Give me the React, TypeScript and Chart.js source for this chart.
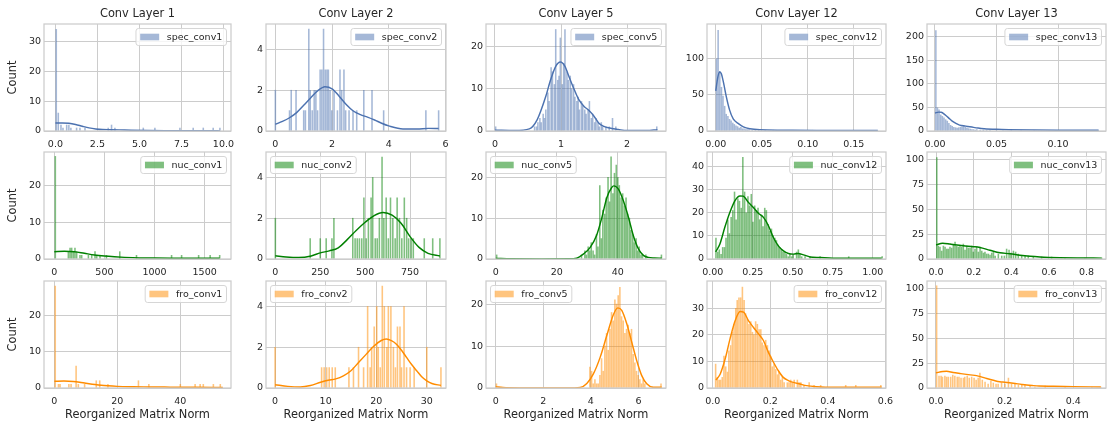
import React, { useEffect, useRef } from "react";
import { Chart, registerables } from "chart.js";

Chart.register(...registerables);

type Pt = [number, number];

// ---------------- Conv Layer 1 ----------------
const spec1Hist: Pt[] = [[0.05,34],[0.17,6],[0.33,2],[0.45,1],[0.67,2],[0.8,2],[0.92,1],[1.26,1],[1.46,1],[1.76,1],[3.14,1],[3.34,2],[3.54,1],[5.23,1],[5.92,1],[7.41,1],[8.2,1],[8.8,1],[9.39,1],[9.79,1]];
const spec1Kde: Pt[] = [[0,2.7],[0.4,2.7],[0.8,2.6],[1.2,2.2],[1.6,1.6],[2.0,1.05],[2.4,0.7],[2.8,0.5],[3.3,0.45],[3.8,0.38],[4.5,0.25],[5.5,0.15],[6.5,0.1],[8,0.08],[9.8,0.05]];
const nuc1Hist: Pt[] = [[10,28],[140,2],[157,3],[173,3],[190,2],[206,3],[223,2],[256,1],[273,1],[340,1],[373,1],[406,2],[423,1],[456,1],[520,1],[653,2],[820,1],[1170,1],[1270,1],[1440,1],[1555,1],[1650,1]];
const nuc1Kde: Pt[] = [[0,2.0],[100,2.1],[200,2.0],[300,1.55],[400,1.1],[500,0.8],[600,0.6],[700,0.45],[850,0.3],[1000,0.25],[1200,0.22],[1400,0.2],[1650,0.2]];
const fro1Hist: Pt[] = [[0.27,28],[1.3,1],[1.8,1],[4.6,1],[5.3,1],[6.9,6],[7.6,1],[9.6,1],[13.3,2],[14.4,2],[17.0,1],[26.7,2],[30.0,1],[40.0,1],[44.7,1],[46.3,1],[47.3,1],[50.5,1],[52.7,1]];
const fro1Kde: Pt[] = [[0,1.85],[3,1.9],[6,1.8],[8,1.6],[10,1.3],[12,1.05],[14,0.85],[17,0.6],[20,0.45],[25,0.35],[30,0.3],[35,0.25],[40,0.2],[45,0.18],[53.5,0.17]];

// ---------------- Conv Layer 2 ----------------
const spec2Hist: Pt[] = [[0,2],[0.5,1],[0.56,2],[0.73,2],[1.0,1],[1.06,1],[1.18,5],[1.23,2],[1.3,1],[1.37,2],[1.43,2],[1.49,1],[1.58,3],[1.64,3],[1.7,5],[1.76,3],[1.82,3],[1.87,3],[1.93,2],[1.99,1],[2.07,2],[2.19,1],[2.28,3],[2.34,2],[2.42,3],[2.48,1],[2.6,1],[2.74,1],[2.87,1],[3.12,2],[3.41,2],[3.82,1],[5.31,1],[5.76,1]];
const spec2Kde: Pt[] = [[0,0.33],[0.25,0.47],[0.5,0.65],[0.75,0.9],[1.0,1.26],[1.25,1.63],[1.5,1.98],[1.75,2.17],[2.0,2.07],[2.25,1.71],[2.5,1.3],[2.75,0.98],[3.0,0.8],[3.25,0.68],[3.5,0.54],[3.75,0.38],[4.0,0.25],[4.5,0.1],[5.0,0.1],[5.4,0.13],[5.76,0.12]];
const nuc2Hist: Pt[] = [[0,2],[194,1],[250,1],[283,1],[315,1],[326,2],[431,2],[444,1],[456,1],[468,1],[481,1],[493,3],[506,1],[518,2],[533,3],[542,4],[556,1],[567,1],[579,2],[594,5],[604,2],[617,3],[629,1],[641,3],[654,2],[667,1],[678,3],[691,2],[704,1],[718,3],[731,2],[742,1],[756,1],[768,1],[829,1],[876,1],[916,1]];
const nuc2Kde: Pt[] = [[0,0.16],[60,0.1],[130,0.07],[200,0.15],[250,0.3],[300,0.4],[350,0.55],[400,0.95],[450,1.4],[500,1.8],[550,2.13],[600,2.28],[650,2.15],[700,1.75],[750,1.1],[800,0.57],[850,0.28],[916,0.15]];
const fro2Hist: Pt[] = [[0,2],[9.2,1],[9.7,1],[10.2,1],[10.7,1],[11.3,1],[11.9,1],[14.6,1],[15.5,1],[16.5,2],[17.5,1],[18.3,4],[18.8,1],[19.1,2],[19.6,3],[20.1,4],[20.4,2],[20.8,1],[21.2,5],[21.6,4],[22.1,2],[22.4,4],[22.9,4],[23.4,2],[23.8,1],[24.2,3],[24.7,3],[25.0,1],[25.5,4],[26.0,1],[26.7,1],[27.5,1],[30.0,2],[32.8,1]];
const fro2Kde: Pt[] = [[0,0.16],[2.5,0.08],[5,0.05],[7,0.12],[9,0.28],[10.5,0.38],[12,0.45],[13.5,0.6],[15,0.85],[16.5,1.25],[18,1.65],[19.5,2.05],[21,2.33],[22,2.4],[23,2.32],[24,2.15],[25,1.85],[26,1.5],[27,1.15],[28,0.85],[29,0.55],[30,0.35],[31,0.22],[32.8,0.13]];

// ---------------- Conv Layer 5 ----------------
const spec5Hist: Pt[] = [[0.01,1],[0.6,1],[0.63,1],[0.65,2],[0.68,3],[0.7,2],[0.73,4],[0.75,3],[0.77,5],[0.8,9],[0.82,7],[0.85,15],[0.87,14],[0.9,11],[0.92,24],[0.95,12],[0.97,13],[0.99,22],[1.02,11],[1.04,16],[1.06,24],[1.09,14],[1.11,12],[1.14,13],[1.16,10],[1.19,11],[1.21,8],[1.24,7],[1.26,8],[1.28,5],[1.31,7],[1.33,6],[1.36,5],[1.38,4],[1.41,5],[1.43,7],[1.46,3],[1.48,4],[1.51,2],[1.53,3],[1.56,2],[1.58,1],[1.61,2],[1.63,1],[1.68,1],[1.73,1],[1.78,3],[1.83,1],[2.45,1]];
const spec5Kde: Pt[] = [[0,0.2],[0.3,0.1],[0.52,0.5],[0.64,2.7],[0.77,8.2],[0.84,12],[0.92,15.3],[0.99,16.3],[1.06,15.3],[1.12,12.9],[1.2,9.8],[1.27,7.4],[1.35,5.8],[1.42,4.9],[1.5,3.5],[1.57,1.9],[1.65,1.1],[1.72,0.75],[1.87,0.35],[2.0,0.1],[2.3,0.1],[2.46,0.3]];
const nuc5Hist: Pt[] = [[0.3,1],[28.1,1],[29.2,2],[29.7,1],[30.3,3],[30.8,2],[31.3,4],[31.9,2],[32.4,1],[33.0,6],[33.5,3],[34.1,18],[34.6,5],[35.1,12],[35.7,11],[36.2,15],[36.8,20],[37.3,14],[37.8,25],[38.4,16],[38.9,21],[39.5,23],[40.0,20],[40.5,18],[41.1,15],[41.6,16],[42.2,13],[42.7,15],[43.2,11],[43.8,10],[44.3,7],[44.9,6],[45.4,4],[46.0,5],[46.5,2],[47.0,3],[47.6,1],[48.1,1],[49.2,1],[54.3,1]];
const nuc5Kde: Pt[] = [[0,0.15],[5,0.05],[15,0.02],[24,0.05],[26.5,0.2],[28.7,1.2],[30.9,2.8],[33.1,5.9],[34.8,10.2],[36.4,15],[38.0,17.5],[38.7,17.9],[40.2,17.1],[41.8,14.3],[43.5,10.2],[45.1,5.7],[46.8,2.4],[48.4,0.9],[50,0.4],[52,0.25],[54.4,0.2]];
const fro5Hist: Pt[] = [[0.03,1],[3.96,5],[4.03,4],[4.1,1],[4.17,2],[4.24,1],[4.31,1],[4.38,3],[4.45,7],[4.52,4],[4.59,10],[4.66,13],[4.73,9],[4.8,14],[4.87,18],[4.94,16],[5.01,21],[5.08,20],[5.15,22],[5.22,24],[5.29,17],[5.36,16],[5.43,13],[5.5,14],[5.57,15],[5.64,13],[5.71,14],[5.78,8],[5.85,6],[5.92,4],[5.99,3],[6.06,2],[6.13,1],[6.2,2],[6.27,1],[6.95,1]];
const fro5Kde: Pt[] = [[0,0.3],[0.3,0.1],[1,0.02],[3,0.02],[3.55,0.15],[3.83,1.1],[4.1,3.3],[4.39,7.3],[4.67,12.5],[4.95,17.5],[5.13,19.1],[5.3,18.5],[5.51,15.3],[5.72,10.9],[5.93,6.5],[6.14,2.95],[6.35,1.0],[6.63,0.16],[6.98,0.16]];

// ---------------- Conv Layer 12 ----------------
const spec12Hist: Pt[] = [[0.0009,99],[0.0026,138],[0.0044,82],[0.0062,60],[0.0079,48],[0.0097,34],[0.0114,23],[0.0132,20],[0.015,16],[0.0167,14],[0.0185,11],[0.0202,9],[0.022,7],[0.0238,6],[0.0255,4],[0.0273,5],[0.029,3],[0.0308,3],[0.0326,2],[0.0343,2],[0.0361,2],[0.0396,1],[0.0431,1],[0.0466,1],[0.0537,1],[0.0625,1],[0.072,1],[0.086,1],[0.105,1],[0.1756,1]];
const spec12Kde: Pt[] = [[0,55],[0.002,72],[0.004,81],[0.006,79],[0.0085,66],[0.0114,47.5],[0.015,29],[0.019,16.6],[0.025,9.8],[0.03,5.7],[0.037,3],[0.048,1.6],[0.073,1.1],[0.11,0.7],[0.176,0.7]];
const nuc12Hist: Pt[] = [[0.02,9],[0.031,3],[0.041,4],[0.052,2],[0.062,5],[0.073,5],[0.083,9],[0.094,17],[0.104,11],[0.115,18],[0.125,21],[0.136,29],[0.146,17],[0.157,26],[0.167,25],[0.178,22],[0.188,44],[0.199,29],[0.209,20],[0.22,27],[0.23,23],[0.241,28],[0.251,16],[0.262,23],[0.272,21],[0.283,22],[0.293,17],[0.304,19],[0.314,14],[0.325,22],[0.335,21],[0.346,15],[0.356,12],[0.367,13],[0.377,10],[0.388,9],[0.398,8],[0.409,6],[0.419,5],[0.43,4],[0.44,3],[0.451,3],[0.461,2],[0.472,1],[0.482,2],[0.493,1],[0.503,2],[0.524,3],[0.535,4],[0.545,2],[0.556,1],[0.577,1],[0.608,1],[0.671,1],[0.85,1],[1.059,1]];
const nuc12Kde: Pt[] = [[0.018,3.1],[0.044,6.4],[0.075,13.6],[0.106,20],[0.138,25.2],[0.17,27.3],[0.19,27.2],[0.223,24.5],[0.254,22.3],[0.285,19.8],[0.317,18],[0.348,14.4],[0.379,9.3],[0.41,5.7],[0.442,3.5],[0.473,2.4],[0.504,2.1],[0.535,2.4],[0.567,1.8],[0.608,0.9],[0.67,0.65],[0.75,0.36],[0.855,0.36],[1.056,0.36]];
const fro12Hist: Pt[] = [[0.01,9],[0.016,4],[0.022,3],[0.027,3],[0.033,4],[0.039,12],[0.045,8],[0.051,6],[0.056,14],[0.062,16],[0.068,21],[0.074,24],[0.08,30],[0.085,33],[0.091,34],[0.097,34],[0.103,38],[0.109,33],[0.114,28],[0.12,26],[0.126,24],[0.132,25],[0.138,21],[0.143,20],[0.149,25],[0.155,24],[0.161,22],[0.167,22],[0.172,17],[0.178,16],[0.184,18],[0.19,16],[0.196,14],[0.201,12],[0.207,8],[0.213,9],[0.219,7],[0.225,5],[0.23,6],[0.236,3],[0.242,4],[0.248,2],[0.259,2],[0.265,2],[0.271,3],[0.277,2],[0.283,3],[0.294,3],[0.3,2],[0.306,2],[0.317,1],[0.335,2],[0.352,1],[0.375,1],[0.462,1],[0.497,1],[0.584,1]];
const fro12Kde: Pt[] = [[0.011,3.0],[0.026,5.3],[0.043,10.9],[0.06,18.5],[0.078,25.4],[0.095,28.8],[0.107,28.6],[0.124,25.4],[0.141,22.9],[0.159,20.4],[0.176,17.9],[0.193,13.5],[0.211,9.7],[0.228,6.5],[0.245,4.0],[0.263,2.8],[0.28,2.1],[0.303,1.5],[0.326,0.9],[0.361,0.5],[0.419,0.25],[0.587,0.25]];

// ---------------- Conv Layer 13 ----------------
const spec13Hist: Pt[] = [[0.0007,213],[0.002,49],[0.0033,45],[0.0047,34],[0.006,31],[0.0073,28],[0.0087,24],[0.01,21],[0.0113,16],[0.0127,12],[0.014,10],[0.0153,8],[0.0167,7],[0.018,6],[0.0193,7],[0.0207,8],[0.022,9],[0.0233,10],[0.0247,8],[0.026,6],[0.0273,5],[0.0287,4],[0.03,3],[0.0313,3],[0.0327,2],[0.034,3],[0.0367,2],[0.0393,2],[0.042,1],[0.0447,2],[0.05,1],[0.0553,1],[0.062,1],[0.07,1],[0.0807,1],[0.0927,1],[0.11,1],[0.1327,1]];
const spec13Kde: Pt[] = [[0,38],[0.003,40],[0.005,39.6],[0.008,34.7],[0.011,27.8],[0.014,20.8],[0.017,16],[0.02,12.5],[0.025,10.4],[0.03,8.3],[0.035,6.3],[0.04,4.9],[0.05,3.5],[0.06,2.8],[0.08,2.1],[0.1,1.7],[0.133,1.4]];
const nuc13Hist: Pt[] = [[0.004,102],[0.012,13],[0.021,12],[0.03,8],[0.039,13],[0.048,12],[0.057,10],[0.065,10],[0.074,12],[0.083,11],[0.092,15],[0.101,17],[0.11,13],[0.119,12],[0.127,13],[0.136,12],[0.145,15],[0.154,9],[0.163,13],[0.172,11],[0.181,11],[0.19,13],[0.198,7],[0.207,10],[0.216,12],[0.225,7],[0.234,12],[0.243,8],[0.252,6],[0.26,7],[0.269,5],[0.278,5],[0.287,4],[0.296,6],[0.305,7],[0.314,3],[0.331,5],[0.349,3],[0.363,3],[0.375,10],[0.388,9],[0.398,6],[0.411,8],[0.423,7],[0.437,5],[0.455,3],[0.473,3],[0.49,3],[0.517,2],[0.561,2],[0.614,2],[0.685,1],[0.791,1],[0.88,1]];
const nuc13Kde: Pt[] = [[0,14.2],[0.035,15.8],[0.074,15],[0.1,14.3],[0.145,13.3],[0.2,12.4],[0.233,11.6],[0.286,8.8],[0.34,6.2],[0.393,5.3],[0.446,3.8],[0.5,2.7],[0.552,2.0],[0.6,1.6],[0.658,1.3],[0.75,1.0],[0.88,0.9]];
const fro13Hist: Pt[] = [[0.002,103],[0.009,12],[0.015,12],[0.019,11],[0.026,12],[0.031,11],[0.036,11],[0.043,11],[0.049,13],[0.055,12],[0.062,11],[0.067,11],[0.073,10],[0.08,10],[0.084,11],[0.091,12],[0.097,10],[0.104,11],[0.111,10],[0.117,8],[0.123,10],[0.128,15],[0.135,8],[0.143,6],[0.152,4],[0.16,7],[0.167,5],[0.175,4],[0.181,4],[0.191,5],[0.201,4],[0.211,10],[0.22,4],[0.23,4],[0.24,3],[0.25,3],[0.259,3],[0.274,2],[0.288,1],[0.318,2],[0.376,1],[0.454,1],[0.48,1]];
const fro13Kde: Pt[] = [[0,15.2],[0.02,16.6],[0.031,16.8],[0.05,15.6],[0.07,14.6],[0.1,13.2],[0.118,12.5],[0.13,11.5],[0.148,9.5],[0.17,7.5],[0.186,6.3],[0.2,5.8],[0.225,4.8],[0.25,3.6],[0.264,3],[0.28,2.5],[0.3,2.0],[0.342,1.8],[0.4,1.4],[0.48,1.0]];

// ---------------- tick labels ----------------
const spec1XTicks = [0, 2.5, 5, 7.5, 10];
const nuc1XTicks = [0, 500, 1000, 1500];
const fro1XTicks = [0, 20, 40];
const spec2XTicks = [0, 2, 4, 6];
const nuc2XTicks = [0, 250, 500, 750];
const fro2XTicks = [0, 10, 20, 30];
const spec5XTicks = [0, 1, 2];
const nuc5XTicks = [0, 20, 40];
const fro5XTicks = [0, 2, 4, 6];
const spec12XTicks = [0, 0.05, 0.1, 0.15];
const nuc12XTicks = [0, 0.25, 0.5, 0.75, 1];
const fro12XTicks = [0, 0.2, 0.4, 0.6];
const spec13XTicks = [0, 0.05, 0.1];
const nuc13XTicks = [0, 0.2, 0.4, 0.6, 0.8];
const fro13XTicks = [0, 0.2, 0.4];

const yTicks0to30 = [0, 10, 20, 30];
const yTicks0to20 = [0, 10, 20];
const yTicks0to4 = [0, 2, 4];
const yTicks0to100by50 = [0, 50, 100];
const yTicks0to200 = [0, 50, 100, 150, 200];
const yTicks0to40 = [0, 10, 20, 30, 40];
const yTicks0to100by25 = [0, 25, 50, 75, 100];

const columnTitles = ["Conv Layer 1", "Conv Layer 2", "Conv Layer 5", "Conv Layer 12", "Conv Layer 13"];

// ---------------- styling / layout ----------------
const FONT = '"DejaVu Sans", "Liberation Sans", sans-serif';
const TEXT = "#262626";
const GRID = "#cccccc";
const TONES: Record<string, { line: string; fill: string }> = {
  blue: { line: "#4c72b0", fill: "rgba(76,114,176,0.5)" },
  green: { line: "#008000", fill: "rgba(0,128,0,0.5)" },
  orange: { line: "#ff8c00", fill: "rgba(255,140,0,0.5)" },
};
const COL_LEFT = [44, 266, 486, 707, 927];
const COL_W = [187, 180, 180, 179, 179];
const ROW_TOP = [24, 152, 281];
const BOX_H = 107;
const Y_AXIS_W = 44;
const TOP_PAD = 24;
const RIGHT_PAD = 14;

interface PanelDef {
  row: number; col: number; label: string; tone: string;
  hist: Pt[]; kde: Pt[]; bin: number;
  xMin: number; xMax: number; yMax: number;
  xTicks: number[]; yTicks: number[]; dec: number; side: "left" | "right";
}

const panels: PanelDef[] = [
  { row: 0, col: 0, label: "spec_conv1", tone: "blue", hist: spec1Hist, kde: spec1Kde, bin: 0.098, xMin: -0.68, xMax: 10.45, yMax: 35.8, xTicks: spec1XTicks, yTicks: yTicks0to30, dec: 1, side: "right" },
  { row: 1, col: 0, label: "nuc_conv1", tone: "green", hist: nuc1Hist, kde: nuc1Kde, bin: 16.6, xMin: -103, xMax: 1763, yMax: 29.2, xTicks: nuc1XTicks, yTicks: yTicks0to20, dec: 0, side: "right" },
  { row: 2, col: 0, label: "fro_conv1", tone: "orange", hist: fro1Hist, kde: fro1Kde, bin: 0.535, xMin: -3.3, xMax: 56.1, yMax: 29.4, xTicks: fro1XTicks, yTicks: yTicks0to20, dec: 0, side: "right" },
  { row: 0, col: 1, label: "spec_conv2", tone: "blue", hist: spec2Hist, kde: spec2Kde, bin: 0.0575, xMin: -0.33, xMax: 6.02, yMax: 5.25, xTicks: spec2XTicks, yTicks: yTicks0to4, dec: 0, side: "right" },
  { row: 1, col: 1, label: "nuc_conv2", tone: "green", hist: nuc2Hist, kde: nuc2Kde, bin: 9.2, xMin: -52, xMax: 950, yMax: 5.25, xTicks: nuc2XTicks, yTicks: yTicks0to4, dec: 0, side: "left" },
  { row: 2, col: 1, label: "fro_conv2", tone: "orange", hist: fro2Hist, kde: fro2Kde, bin: 0.33, xMin: -1.8, xMax: 33.8, yMax: 5.25, xTicks: fro2XTicks, yTicks: yTicks0to4, dec: 0, side: "left" },
  { row: 0, col: 2, label: "spec_conv5", tone: "blue", hist: spec5Hist, kde: spec5Kde, bin: 0.0246, xMin: -0.136, xMax: 2.59, yMax: 25.3, xTicks: spec5XTicks, yTicks: yTicks0to20, dec: 0, side: "right" },
  { row: 1, col: 2, label: "nuc_conv5", tone: "green", hist: nuc5Hist, kde: nuc5Kde, bin: 0.545, xMin: -3.2, xMax: 55.8, yMax: 26.2, xTicks: nuc5XTicks, yTicks: yTicks0to20, dec: 0, side: "left" },
  { row: 2, col: 2, label: "fro_conv5", tone: "orange", hist: fro5Hist, kde: fro5Kde, bin: 0.07, xMin: -0.41, xMax: 7.16, yMax: 25.5, xTicks: fro5XTicks, yTicks: yTicks0to20, dec: 0, side: "left" },
  { row: 0, col: 3, label: "spec_conv12", tone: "blue", hist: spec12Hist, kde: spec12Kde, bin: 0.00176, xMin: -0.0095, xMax: 0.185, yMax: 146.8, xTicks: spec12XTicks, yTicks: yTicks0to100by50, dec: 2, side: "right" },
  { row: 1, col: 3, label: "nuc_conv12", tone: "green", hist: nuc12Hist, kde: nuc12Kde, bin: 0.0105, xMin: -0.036, xMax: 1.083, yMax: 46.3, xTicks: nuc12XTicks, yTicks: yTicks0to40, dec: 2, side: "right" },
  { row: 2, col: 3, label: "fro_conv12", tone: "orange", hist: fro12Hist, kde: fro12Kde, bin: 0.0058, xMin: -0.02, xMax: 0.602, yMax: 40.3, xTicks: fro12XTicks, yTicks: yTicks0to30, dec: 1, side: "right" },
  { row: 0, col: 4, label: "spec_conv13", tone: "blue", hist: spec13Hist, kde: spec13Kde, bin: 0.00133, xMin: -0.0065, xMax: 0.139, yMax: 226.7, xTicks: spec13XTicks, yTicks: yTicks0to200, dec: 2, side: "right" },
  { row: 1, col: 4, label: "nuc_conv13", tone: "green", hist: nuc13Hist, kde: nuc13Kde, bin: 0.0088, xMin: -0.048, xMax: 0.903, yMax: 107.5, xTicks: nuc13XTicks, yTicks: yTicks0to100by25, dec: 1, side: "right" },
  { row: 2, col: 4, label: "fro_conv13", tone: "orange", hist: fro13Hist, kde: fro13Kde, bin: 0.0048, xMin: -0.026, xMax: 0.495, yMax: 107.8, xTicks: fro13XTicks, yTicks: yTicks0to100by25, dec: 1, side: "right" },
];

function Panel({ p }: { p: PanelDef }) {
  const ref = useRef<HTMLCanvasElement | null>(null);
  const boxW = COL_W[p.col];
  const xAxisH = p.row === 2 ? 425 - (ROW_TOP[2] + BOX_H) : 22;
  const width = Y_AXIS_W + boxW + RIGHT_PAD;
  const height = TOP_PAD + BOX_H + xAxisH;
  const left = COL_LEFT[p.col] - Y_AXIS_W;
  const top = ROW_TOP[p.row] - TOP_PAD;

  useEffect(() => {
    const tone = TONES[p.tone];
    const barPx = (p.bin * boxW) / (p.xMax - p.xMin) * 0.55;
    const title = p.row === 0 ? columnTitles[p.col] : null;

    const decor = {
      id: "decor",
      afterDatasetsDraw(chart: any) {
        const { ctx, chartArea: a } = chart;
        ctx.save();
        ctx.strokeStyle = GRID;
        ctx.lineWidth = 1.25;
        ctx.strokeRect(a.left, a.top, a.right - a.left, a.bottom - a.top);
        const fs = 9.5;
        ctx.font = `${fs}px ${FONT}`;
        const tw = ctx.measureText(p.label).width;
        const pad = 4.2, patchW = 19, gap = 7.6, h = 17;
        const w = pad + patchW + gap + tw + pad;
        const x0 = p.side === "right" ? a.right - 4.5 - w : a.left + 4.5;
        const y0 = a.top + 4.5;
        const r = 2.5;
        ctx.beginPath();
        ctx.moveTo(x0 + r, y0);
        ctx.lineTo(x0 + w - r, y0);
        ctx.arcTo(x0 + w, y0, x0 + w, y0 + r, r);
        ctx.lineTo(x0 + w, y0 + h - r);
        ctx.arcTo(x0 + w, y0 + h, x0 + w - r, y0 + h, r);
        ctx.lineTo(x0 + r, y0 + h);
        ctx.arcTo(x0, y0 + h, x0, y0 + h - r, r);
        ctx.lineTo(x0, y0 + r);
        ctx.arcTo(x0, y0, x0 + r, y0, r);
        ctx.closePath();
        ctx.fillStyle = "rgba(255,255,255,0.8)";
        ctx.fill();
        ctx.strokeStyle = "#d6d6d6";
        ctx.lineWidth = 1;
        ctx.stroke();
        ctx.fillStyle = tone.fill;
        ctx.fillRect(x0 + pad, y0 + h / 2 - 3.3, patchW, 6.6);
        ctx.fillStyle = TEXT;
        ctx.textBaseline = "middle";
        ctx.textAlign = "left";
        ctx.fillText(p.label, x0 + pad + patchW + gap, y0 + h / 2 + 0.5);
        if (title) {
          ctx.font = `11.4px ${FONT}`;
          ctx.textAlign = "center";
          ctx.fillText(title, (a.left + a.right) / 2, a.top - 10);
        }
        ctx.restore();
      },
    };

    const chart = new Chart(ref.current as HTMLCanvasElement, {
      type: "bar",
      data: {
        datasets: [
          {
            type: "line",
            data: p.kde.map(([x, y]) => ({ x, y })),
            borderColor: tone.line,
            borderWidth: 1.45,
            pointRadius: 0,
            cubicInterpolationMode: "monotone",
            fill: false,
            order: 0,
          } as any,
          {
            type: "bar",
            data: p.hist.map(([x, y]) => ({ x, y })),
            backgroundColor: tone.fill,
            borderWidth: 0,
            barThickness: barPx,
            grouped: false,
            order: 1,
          } as any,
        ],
      },
      options: {
        responsive: false,
        maintainAspectRatio: false,
        animation: false,
        events: [],
        layout: { padding: { top: TOP_PAD, right: RIGHT_PAD, bottom: 0, left: 0 }, autoPadding: false },
        plugins: { legend: { display: false }, tooltip: { enabled: false }, title: { display: false } },
        scales: {
          x: {
            type: "linear",
            min: p.xMin,
            max: p.xMax,
            offset: false,
            bounds: "data",
            afterBuildTicks: (s: any) => { s.ticks = p.xTicks.map((v) => ({ value: v })); },
            afterFit: (s: any) => { s.height = xAxisH; s.paddingLeft = 0; s.paddingRight = 0; },
            grid: { color: GRID, lineWidth: 1, drawTicks: false, offset: false },
            border: { display: false },
            ticks: {
              padding: 7.5,
              color: TEXT,
              font: { family: FONT, size: 9.5 },
              autoSkip: false,
              maxRotation: 0,
              minRotation: 0,
              callback: (v: any) => Number(v).toFixed(p.dec),
            },
            title: {
              display: p.row === 2,
              text: "Reorganized Matrix Norm",
              color: TEXT,
              font: { family: FONT, size: 11.4 },
              padding: { top: 0, bottom: 3 },
            },
          },
          y: {
            type: "linear",
            min: 0,
            max: p.yMax,
            bounds: "data",
            afterBuildTicks: (s: any) => { s.ticks = p.yTicks.map((v) => ({ value: v })); },
            afterFit: (s: any) => { s.width = Y_AXIS_W; s.paddingTop = 0; s.paddingBottom = 0; },
            grid: { color: GRID, lineWidth: 1, drawTicks: false },
            border: { display: false },
            ticks: {
              padding: 3,
              color: TEXT,
              font: { family: FONT, size: 9.5 },
              autoSkip: false,
              callback: (v: any) => String(v),
            },
            title: {
              display: p.col === 0,
              text: "Count",
              color: TEXT,
              font: { family: FONT, size: 11.4 },
              padding: { top: 6.5, bottom: 0 },
            },
          },
        },
      } as any,
      plugins: [decor],
    });
    return () => chart.destroy();
  }, []);

  return (
    <canvas
      ref={ref}
      width={width}
      height={height}
      style={{ position: "absolute", left, top, width, height, display: "block" }}
    />
  );
}

export default function App() {
  return (
    <div style={{ position: "absolute", left: 0, top: 0, width: 1110, height: 425, background: "#ffffff", overflow: "hidden" }}>
      {panels.map((p) => (
        <Panel key={p.label} p={p} />
      ))}
    </div>
  );
}
